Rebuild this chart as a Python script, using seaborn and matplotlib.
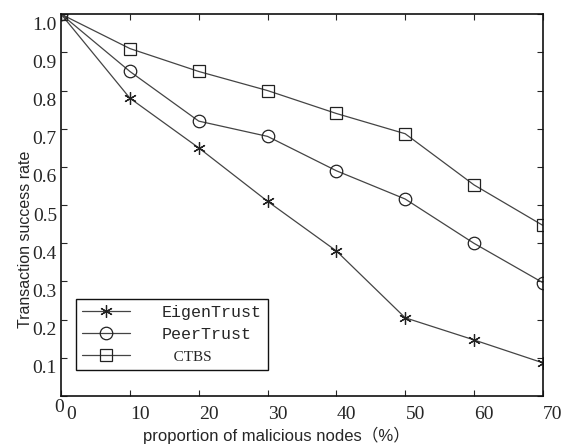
import matplotlib
matplotlib.use("Agg")
import matplotlib.pyplot as plt
import matplotlib.transforms as mtransforms
import seaborn as sns
import pandas as pd
from matplotlib.lines import Line2D

x_vals = [0, 10, 20, 30, 40, 50, 60, 70]
eigen = [1.0, 0.78, 0.65, 0.51, 0.38, 0.205, 0.147, 0.087]
peer = [1.0, 0.85, 0.72, 0.68, 0.59, 0.516, 0.40, 0.297]
ctbs = [1.0, 0.91, 0.85, 0.80, 0.74, 0.687, 0.553, 0.447]
series_names = ["EigenTrust", "PeerTrust", "CTBS"]
legend_labels = ["EigenTrust", "PeerTrust", "   CTBS"]
x_ticks = [0, 10, 20, 30, 40, 50, 60, 70]
y_ticks = [0, 0.1, 0.2, 0.3, 0.4, 0.5, 0.6, 0.7, 0.8, 0.9, 1.0]
y_tick_labels = ["0", "0.1", "0.2", "0.3", "0.4", "0.5", "0.6", "0.7", "0.8", "0.9", "1.0"]

sns.set_style("ticks")
plt.rcParams['font.family'] = ['Liberation Serif', 'DejaVu Serif']

fig = plt.figure(figsize=(5.66, 4.44), dpi=100)
ax = fig.add_axes([0.108, 0.108, 0.851, 0.860])

markers = {"EigenTrust": (6, 2, 0), "PeerTrust": "o", "CTBS": "s"}
line_color = "#444444"
edge_color = "#222222"
for name, vals in zip(series_names, [eigen, peer, ctbs]):
    d = pd.DataFrame({"x": x_vals, "y": vals})
    sns.lineplot(data=d, x="x", y="y", ax=ax, color=line_color, linewidth=0.9,
                 marker=markers[name], markersize=9, markerfacecolor="none",
                 markeredgecolor=edge_color, markeredgewidth=0.9)

ax.set_xlim(0, 70)
ax.set_ylim(0, 1.0)
ax.set_xticks(x_ticks)
ax.set_xticklabels([str(v) for v in x_ticks], fontsize=14)
ax.set_yticks(y_ticks)
ax.set_yticklabels(y_tick_labels, fontsize=14)
ax.tick_params(direction="in", top=True, right=True, length=4, width=0.8, pad=3)
for s in ax.spines.values():
    s.set_linewidth(1.2)
    s.set_color("#111111")

# tick labels in the reference sit slightly right/below their ticks
xoff = mtransforms.ScaledTranslation(0.10, -0.06, fig.dpi_scale_trans)
for lab in ax.get_xticklabels():
    lab.set_transform(lab.get_transform() + xoff)
yoff = mtransforms.ScaledTranslation(0.0, -0.09, fig.dpi_scale_trans)
for i, lab in enumerate(ax.get_yticklabels()):
    if i == 0:
        lab.set_transform(lab.get_transform() +
                          mtransforms.ScaledTranslation(0.07, -0.09, fig.dpi_scale_trans))
    else:
        lab.set_transform(lab.get_transform() + yoff)

ax.set_xlabel("proportion of malicious nodes（%）",
              family=['Liberation Sans', 'Noto Sans CJK SC'], fontsize=12)
ax.xaxis.set_label_coords(0.446, -0.103)
ax.xaxis.label.set_va("center")
ax.set_ylabel("Transaction success rate", family=['Liberation Sans'], fontsize=11.5)
ax.yaxis.set_label_coords(-0.075, 0.41)
ax.yaxis.label.set_va("center")

handles = []
for name in series_names:
    handles.append(Line2D([], [], color=line_color, linewidth=0.9, marker=markers[name],
                          markersize=9, markerfacecolor="none",
                          markeredgecolor=edge_color, markeredgewidth=0.9))
leg = ax.legend(handles, legend_labels, loc="lower left", bbox_to_anchor=(0.031, 0.068),
                borderaxespad=0, frameon=True, fancybox=False, edgecolor="#111111",
                framealpha=1, handlelength=2.9, borderpad=0.35, labelspacing=0.45,
                handletextpad=1.9, prop={'family': 'Liberation Mono', 'size': 12})
leg.get_frame().set_linewidth(1.0)
texts = leg.get_texts()
texts[2].set_fontfamily('Liberation Serif')
texts[2].set_fontsize(11)

fig.savefig("out.png", dpi=100)
